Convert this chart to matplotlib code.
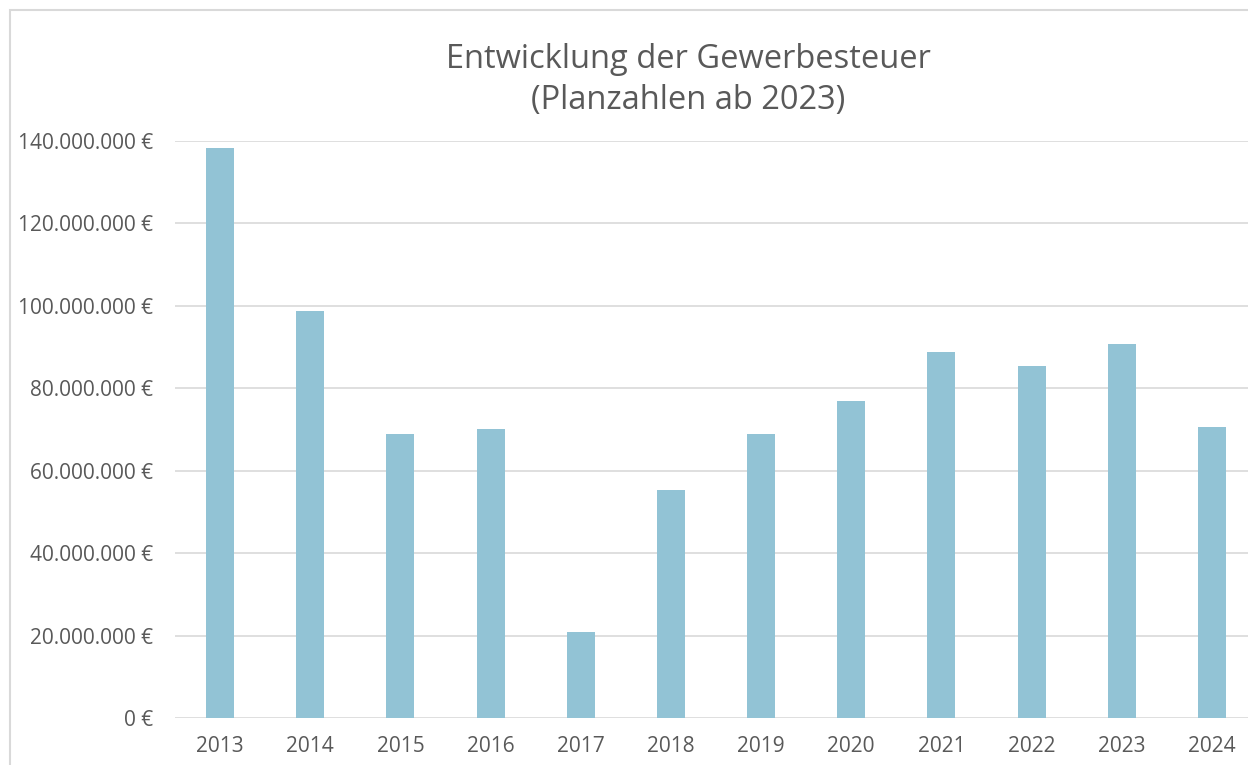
import matplotlib.pyplot as plt
from matplotlib.patches import Rectangle
from matplotlib.ticker import FuncFormatter, MultipleLocator

# Data
years = ["2013", "2014", "2015", "2016", "2017", "2018",
         "2019", "2020", "2021", "2022", "2023", "2024"]
tax = [138.3e6, 98.8e6, 69.0e6, 70.2e6, 20.8e6, 55.2e6,
       68.8e6, 76.8e6, 88.7e6, 85.5e6, 90.8e6, 70.5e6]

grey = "#595959"
plt.rcParams['font.family'] = ['Open Sans', 'DejaVu Sans']

fig = plt.figure(figsize=(12.48, 7.65), dpi=100)
ax = fig.add_axes([175 / 1248, 1 - 718 / 765, 1082 / 1248, 577 / 765])

x = range(len(years))
ax.bar(x, tax, width=0.31, color="#92C3D5", zorder=3)

ax.set_xlim(-0.5, len(years) - 0.5)
ax.set_ylim(0, 140e6)
ax.yaxis.set_major_locator(MultipleLocator(20e6))
ax.yaxis.set_major_formatter(FuncFormatter(lambda v, p: f"{v:,.0f} €".replace(",", ".")))
ax.grid(axis="y", color="#D9D9D9", linewidth=1.2, zorder=0)
ax.set_xticks(list(x))
ax.set_xticklabels(years)

for s in ["top", "right", "left", "bottom"]:
    ax.spines[s].set_visible(False)
ax.tick_params(axis="both", length=0, labelsize=15, labelcolor=grey)
ax.tick_params(axis="y", pad=16)
ax.tick_params(axis="x", pad=13)

fig.text(688 / 1248, 1 - 80 / 765, "Entwicklung der Gewerbesteuer\n(Planzahlen ab 2023)",
         ha="center", va="center", fontsize=23.5, color=grey, linespacing=1.35)

# chart frame like the Excel export
fig.patches.append(Rectangle((10 / 1248, -0.1), 1.2, 1 - 10 / 765 + 0.1,
                             transform=fig.transFigure, fill=False,
                             edgecolor="#D9D9D9", linewidth=1.5))

plt.savefig("out.png", dpi=100)
